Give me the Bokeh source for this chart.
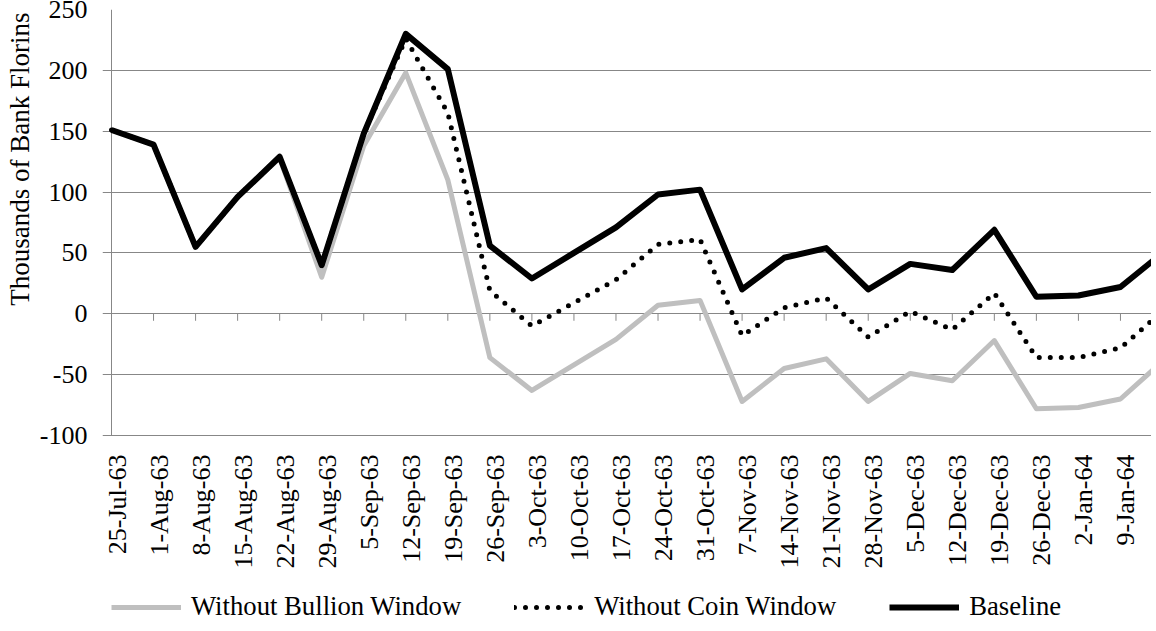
import math
from bokeh.plotting import figure
from bokeh.models import Range1d, FixedTicker, Legend, LegendItem, Title
from bokeh.core.properties import value
from bokeh.embed import file_html
from bokeh.resources import INLINE

# ---- data -------------------------------------------------------------
dates = ["25-Jul-63", "1-Aug-63", "8-Aug-63", "15-Aug-63", "22-Aug-63", "29-Aug-63",
         "5-Sep-63", "12-Sep-63", "19-Sep-63", "26-Sep-63", "3-Oct-63", "10-Oct-63",
         "17-Oct-63", "24-Oct-63", "31-Oct-63", "7-Nov-63", "14-Nov-63", "21-Nov-63",
         "28-Nov-63", "5-Dec-63", "12-Dec-63", "19-Dec-63", "26-Dec-63", "2-Jan-64",
         "9-Jan-64", "16-Jan-64"]
without_bullion = [151, 139, 55, 96, 128, 30, 138, 198, 110, -36, -63, -42, -21, 7, 11,
                   -72, -45, -37, -72, -49, -55, -22, -78, -77, -70, -39]
without_coin = [151, 139, 55, 96, 129, 40, 148, 226, 165, 19, -10, 9, 28, 57, 61,
                -18, 5, 13, -19, 2, -13, 17, -36, -36, -28, 2]
baseline = [151, 139, 55, 96, 129, 40, 148, 230, 201, 56, 29, 50, 71, 98, 102,
            20, 46, 54, 20, 41, 36, 69, 14, 15, 22, 50]
y_ticks = [-100, -50, 0, 50, 100, 150, 200, 250]
shown_labels = 25  # the last week is cut off at the right edge

idx = list(range(len(dates)))
FONT = "Liberation Serif"
GRID = "#878787"
FS = "26px"

# ---- geometry ---------------------------------------------------------
Y_MIN, Y_MAX = y_ticks[0], y_ticks[-1]
PX_PER_UNIT = 426 / (Y_MAX - Y_MIN)
y_bottom = Y_MIN - 188 / PX_PER_UNIT          # frame runs to the page bottom
PX_PER_CAT = 42.04
TICK_OUT = 9                                    # gridlines poke out left of the axis
FRAME_W = 1049
x_start = -TICK_OUT / PX_PER_CAT
x_end = x_start + FRAME_W / PX_PER_CAT

p = figure(frame_width=FRAME_W, frame_height=614,
           x_range=Range1d(x_start, x_end), y_range=Range1d(y_bottom, Y_MAX),
           x_axis_location=None,
           output_backend="svg", toolbar_location=None,
           min_border_left=99, min_border_top=9, min_border_right=0,
           min_border_bottom=0)
p.outline_line_color = None
p.background_fill_color = "white"
p.border_fill_color = "white"

# y axis: labels only (line drawn at the first category below)
p.yaxis.ticker = FixedTicker(ticks=y_ticks)
p.yaxis.major_label_overrides = {t: str(t) for t in y_ticks}
p.yaxis.axis_line_color = None
p.yaxis.major_tick_line_color = None
p.yaxis.major_tick_out = 0
p.yaxis.major_tick_in = 0
p.yaxis.minor_tick_line_color = None
p.yaxis.major_label_text_font = FONT
p.yaxis.major_label_text_font_size = FS
p.yaxis.major_label_text_color = "black"
p.yaxis.major_label_standoff = 15

p.add_layout(Title(text="Thousands of Bank Florins", align="right", offset=3,
                   standoff=4, text_font=FONT, text_font_size="27px",
                   text_font_style="normal", text_color="black"), "left")

# grid
p.xgrid.visible = False
p.ygrid.ticker = FixedTicker(ticks=y_ticks)
p.ygrid.grid_line_color = GRID
p.ygrid.grid_line_width = 1

# vertical axis line, from the lowest to the highest tick
p.segment(x0=[idx[0]], y0=[Y_MIN], x1=[idx[0]], y1=[Y_MAX],
          line_color=GRID, line_width=1)

# category tick marks hanging below the zero line
p.ray(x=idx[:shown_labels], y=[0] * shown_labels, length=7, length_units="screen",
      angle=-math.pi / 2, line_color=GRID, line_width=1)

# category labels, rotated, under the bottom gridline
p.text(x=idx[:shown_labels], y=[Y_MIN] * shown_labels, text=dates[:shown_labels],
       angle=math.pi / 2, text_align="right", text_baseline="middle",
       x_offset=5.5, y_offset=19, text_font=value(FONT), text_font_size=FS,
       text_color="black")

r_bullion = p.line(idx, without_bullion, line_color="#BFBFBF", line_width=5,
                   line_join="round")
r_coin = p.line(idx, without_coin, line_color="black", line_width=5,
                line_dash="0 11", line_cap="round", line_join="round")
r_base = p.line(idx, baseline, line_color="black", line_width=6, line_join="round")

legend = Legend(items=[LegendItem(label="Without Bullion Window", renderers=[r_bullion]),
                       LegendItem(label="Without Coin Window", renderers=[r_coin]),
                       LegendItem(label="Baseline", renderers=[r_base])],
                orientation="horizontal", location=(TICK_OUT, 1),
                label_text_font=FONT, label_text_font_size="26.7px",
                label_text_color="black",
                glyph_width=70, glyph_height=20, label_standoff=10, spacing=53,
                padding=0, margin=0, border_line_color=None, background_fill_alpha=0)
p.add_layout(legend, "center")

open("out.html", "w").write(file_html(p, INLINE))
